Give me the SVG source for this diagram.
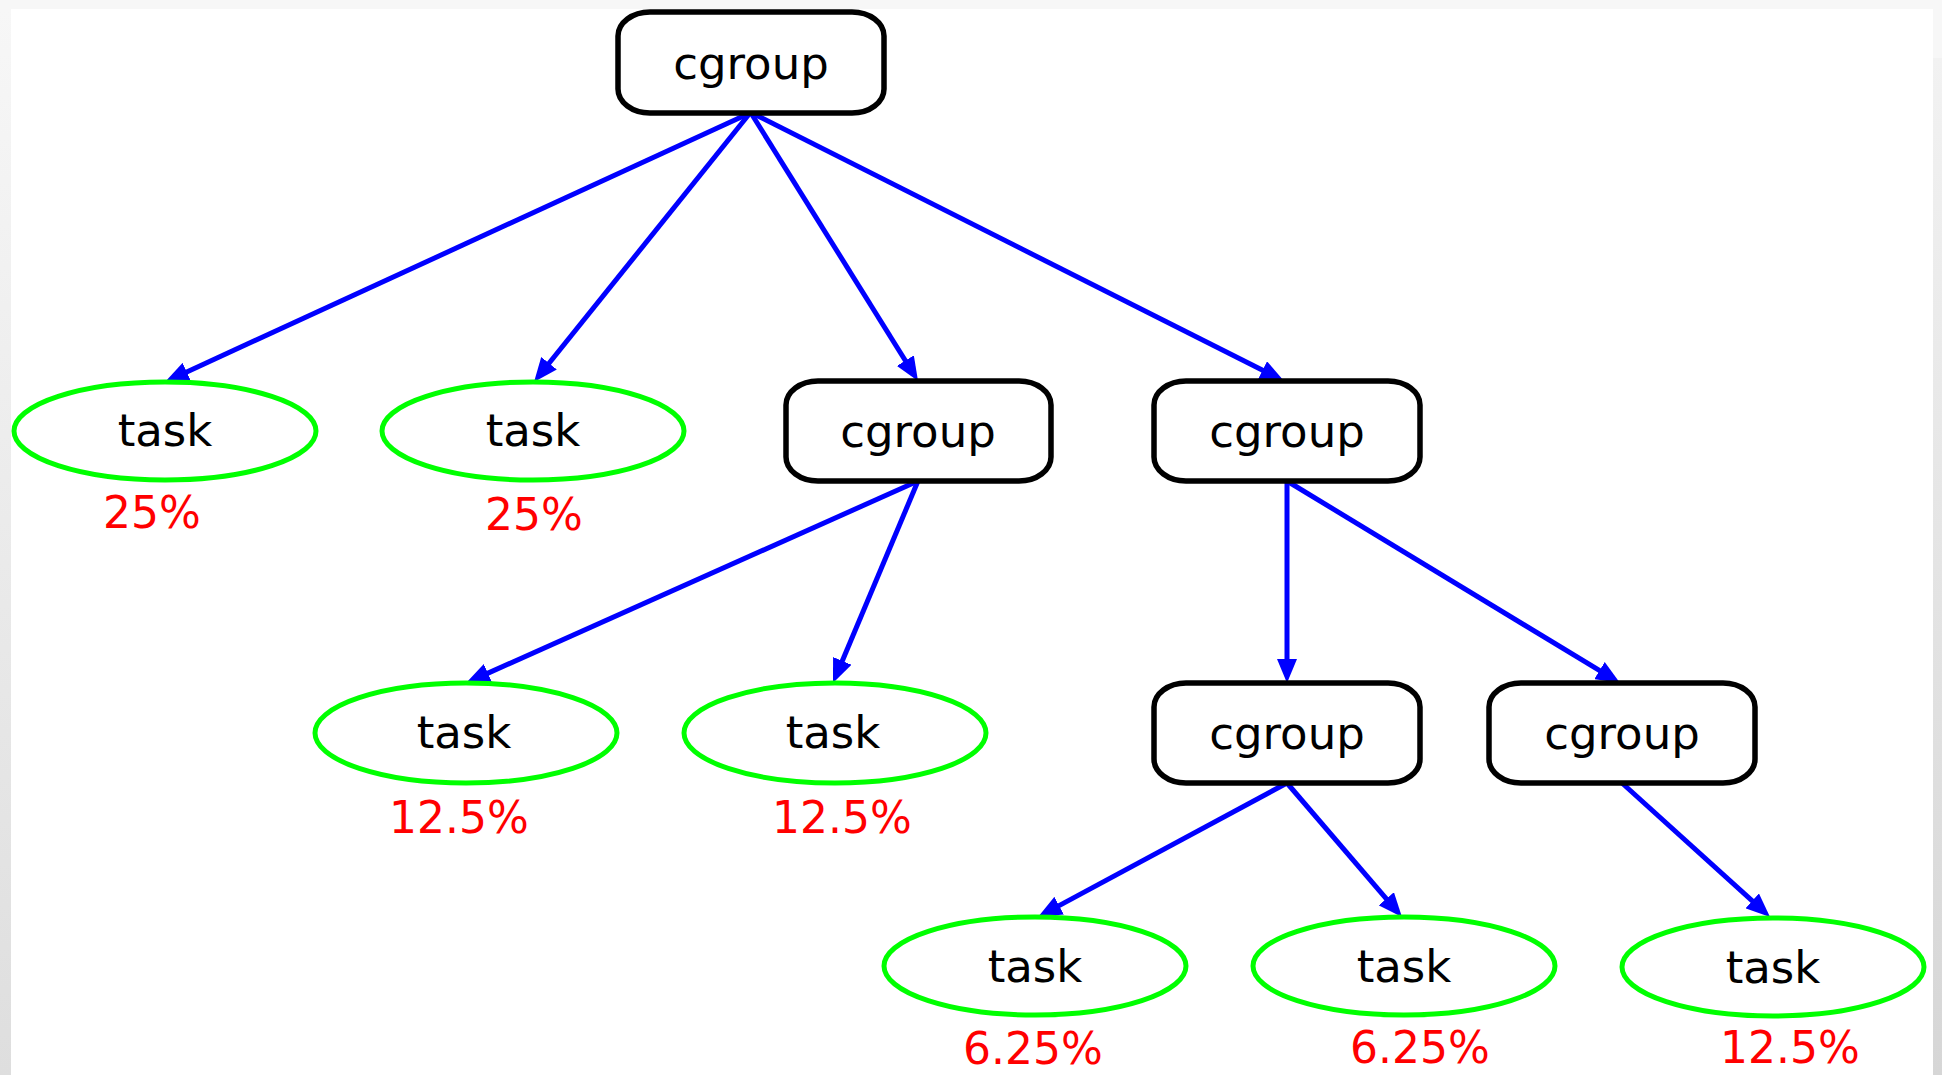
<svg xmlns="http://www.w3.org/2000/svg" width="1942" height="1075" viewBox="0 0 1942 1075">
  <defs>
    <linearGradient id="sideL" x1="0" y1="0" x2="0" y2="1">
      <stop offset="0" stop-color="#f7f7f7"/>
      <stop offset="1" stop-color="#dedede"/>
    </linearGradient>
    <linearGradient id="sideR" x1="0" y1="0" x2="0" y2="1">
      <stop offset="0" stop-color="#f2f2f2"/>
      <stop offset="1" stop-color="#d6d6d6"/>
    </linearGradient>
    <marker id="arrow" viewBox="0 0 24 20" refX="9" refY="10" markerWidth="24" markerHeight="20" markerUnits="userSpaceOnUse" orient="auto">
      <path d="M0,0 L24,10 L0,20 Z" fill="#0000ff"/>
    </marker>
    <style>
      .cg rect { fill: #ffffff; stroke: #000000; stroke-width: 5.5; }
      .tk ellipse { fill: #ffffff; stroke: #00ff00; stroke-width: 5; }
      .lbl { font-family: "DejaVu Sans", "Liberation Sans", sans-serif; font-size: 45px; fill: #000000; text-anchor: middle; }
      .pct { font-family: "DejaVu Sans", "Liberation Sans", sans-serif; font-size: 44px; fill: #ff0000; text-anchor: middle; }
      #edges line { stroke: #0000ff; stroke-width: 5; marker-end: url(#arrow); }
    </style>
  </defs>

  <!-- page frame -->
  <rect x="0" y="0" width="1942" height="1075" fill="#f7f7f7"/>
  <rect x="0" y="9" width="11" height="1066" fill="url(#sideL)"/>
  <rect x="1933" y="58" width="9" height="1017" fill="url(#sideR)"/>
  <rect x="11" y="9" width="1922" height="1066" fill="#ffffff"/>

  <!-- connectors -->
  <g id="edges">
    <line x1="750" y1="113" x2="178.6" y2="375.7"/>
    <line x1="750" y1="113" x2="543.4" y2="370.3"/>
    <line x1="751" y1="113" x2="910.1" y2="368.3"/>
    <line x1="752" y1="113" x2="1270.6" y2="374.3"/>
    <line x1="918" y1="481" x2="479.7" y2="676.9"/>
    <line x1="918" y1="481" x2="838.8" y2="669.2"/>
    <line x1="1287" y1="481" x2="1287" y2="668"/>
    <line x1="1287" y1="481" x2="1607.2" y2="675.2"/>
    <line x1="1287" y1="783" x2="1051.2" y2="909.9"/>
    <line x1="1287" y1="783" x2="1392.2" y2="905.6"/>
    <line x1="1622" y1="783" x2="1758.9" y2="906.9"/>
  </g>

  <!-- cgroup nodes -->
  <g id="cgroup-root" class="cg">
    <rect x="618" y="12" width="266" height="101" rx="32" ry="24"/>
    <text class="lbl" x="751" y="79">cgroup</text>
  </g>
  <g id="cgroup-a" class="cg">
    <rect x="786" y="381" width="265" height="100" rx="32" ry="24"/>
    <text class="lbl" x="918" y="447">cgroup</text>
  </g>
  <g id="cgroup-b" class="cg">
    <rect x="1154" y="381" width="266" height="100" rx="32" ry="24"/>
    <text class="lbl" x="1287" y="447">cgroup</text>
  </g>
  <g id="cgroup-b1" class="cg">
    <rect x="1154" y="683" width="266" height="100" rx="32" ry="24"/>
    <text class="lbl" x="1287" y="749">cgroup</text>
  </g>
  <g id="cgroup-b2" class="cg">
    <rect x="1489" y="683" width="266" height="100" rx="32" ry="24"/>
    <text class="lbl" x="1622" y="749">cgroup</text>
  </g>

  <!-- task nodes -->
  <g id="task-1" class="tk">
    <ellipse cx="165" cy="431" rx="151" ry="49"/>
    <text class="lbl" x="165" y="446">task</text>
    <text class="pct" x="152" y="528">25%</text>
  </g>
  <g id="task-2" class="tk">
    <ellipse cx="533" cy="431" rx="151" ry="49"/>
    <text class="lbl" x="533" y="446">task</text>
    <text class="pct" x="534" y="530">25%</text>
  </g>
  <g id="task-3" class="tk">
    <ellipse cx="466" cy="733" rx="151" ry="50"/>
    <text class="lbl" x="464" y="748">task</text>
    <text class="pct" x="459" y="833">12.5%</text>
  </g>
  <g id="task-4" class="tk">
    <ellipse cx="835" cy="733" rx="151" ry="50"/>
    <text class="lbl" x="833" y="748">task</text>
    <text class="pct" x="842" y="833">12.5%</text>
  </g>
  <g id="task-5" class="tk">
    <ellipse cx="1035" cy="966" rx="151" ry="49"/>
    <text class="lbl" x="1035" y="982">task</text>
    <text class="pct" x="1033" y="1064">6.25%</text>
  </g>
  <g id="task-6" class="tk">
    <ellipse cx="1404" cy="966" rx="151" ry="49"/>
    <text class="lbl" x="1404" y="982">task</text>
    <text class="pct" x="1420" y="1063">6.25%</text>
  </g>
  <g id="task-7" class="tk">
    <ellipse cx="1773" cy="967" rx="151" ry="49"/>
    <text class="lbl" x="1773" y="983">task</text>
    <text class="pct" x="1790" y="1063">12.5%</text>
  </g>
</svg>
